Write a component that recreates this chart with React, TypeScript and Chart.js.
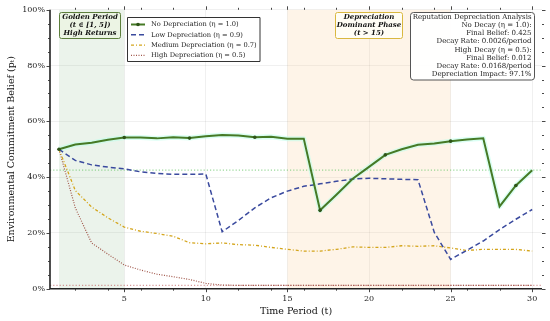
import React, { useEffect, useRef } from 'react';
import { Chart, registerables } from 'chart.js';
Chart.register(...registerables);

const periods = [1,2,3,4,5,6,7,8,9,10,11,12,13,14,15,16,17,18,19,20,21,22,23,24,25,26,27,28,29,30];
const noDepreciation = [0.500,0.517,0.523,0.534,0.542,0.542,0.539,0.543,0.540,0.547,0.551,0.549,0.543,0.545,0.538,0.538,0.281,0.337,0.394,0.437,0.480,0.500,0.516,0.521,0.529,0.535,0.539,0.295,0.370,0.425];
const lowDepreciation = [0.500,0.460,0.444,0.436,0.430,0.419,0.413,0.410,0.410,0.411,0.204,0.245,0.290,0.326,0.350,0.367,0.376,0.385,0.393,0.396,0.394,0.392,0.391,0.202,0.105,0.138,0.171,0.212,0.249,0.284];
const mediumDepreciation = [0.500,0.352,0.293,0.254,0.221,0.206,0.198,0.188,0.165,0.161,0.164,0.158,0.156,0.148,0.141,0.135,0.135,0.141,0.150,0.148,0.148,0.154,0.152,0.154,0.146,0.137,0.141,0.141,0.141,0.135];
const highDepreciation = [0.500,0.290,0.164,0.124,0.085,0.067,0.052,0.043,0.033,0.019,0.013,0.012,0.012,0.012,0.012,0.012,0.012,0.012,0.012,0.012,0.012,0.012,0.012,0.012,0.012,0.012,0.012,0.012,0.012,0.012];
const xTicks = [5, 10, 15, 20, 25, 30];
const yTicks = [0, 0.2, 0.4, 0.6, 0.8, 1.0];
const seriesLabels = ['No Depreciation (η = 1.0)', 'Low Depreciation (η = 0.9)', 'Medium Depreciation (η = 0.7)', 'High Depreciation (η = 0.5)'];
const finalNoDecay = 0.425;
const finalHighDecay = 0.012;
const goldenPeriod = [1, 5];
const depreciationPhase = [15, 25];
const statsLines = ['Reputation Depreciation Analysis', 'No Decay (η = 1.0):', 'Final Belief: 0.425', 'Decay Rate: 0.0026/period', 'High Decay (η = 0.5):', 'Final Belief: 0.012', 'Decay Rate: 0.0168/period', 'Depreciation Impact: 97.1%'];

const FONT = "'DejaVu Serif', serif";
const GREEN = '#467a26';
const BLUE = '#3a4a9e';
const GOLD = '#d4a51c';
const RED = '#a0564a';
const styles = [
  { color: GREEN, width: 2, dash: [] as number[] },
  { color: BLUE, width: 1.5, dash: [5, 3] },
  { color: GOLD, width: 1.3, dash: [3, 2, 1, 2] },
  { color: RED, width: 1.2, dash: [1, 1.5] },
];

const overlayPlugin = {
  id: 'overlay',
  beforeDatasetsDraw(chart: any) {
    const { ctx, chartArea: a, scales } = chart;
    const x = scales.x, y = scales.y;
    ctx.save();
    ctx.fillStyle = 'rgba(70,150,70,0.11)';
    const g0 = x.getPixelForValue(goldenPeriod[0]), g1 = x.getPixelForValue(goldenPeriod[1]);
    ctx.fillRect(g0, a.top, g1 - g0, a.bottom - a.top);
    ctx.fillStyle = 'rgba(245,175,95,0.14)';
    const d0 = x.getPixelForValue(depreciationPhase[0]), d1 = x.getPixelForValue(depreciationPhase[1]);
    ctx.fillRect(d0, a.top, d1 - d0, a.bottom - a.top);
    ctx.lineWidth = 1.1;
    ctx.setLineDash([1.2, 2]);
    ctx.strokeStyle = 'rgba(110,200,110,0.7)';
    let yy = y.getPixelForValue(finalNoDecay);
    ctx.beginPath(); ctx.moveTo(a.left, yy); ctx.lineTo(a.right, yy); ctx.stroke();
    ctx.strokeStyle = 'rgba(200,110,110,0.7)';
    yy = y.getPixelForValue(finalHighDecay);
    ctx.beginPath(); ctx.moveTo(a.left, yy); ctx.lineTo(a.right, yy); ctx.stroke();
    ctx.setLineDash([]);
    ctx.lineWidth = 5;
    ctx.lineJoin = 'round';
    ctx.strokeStyle = 'rgba(190,255,235,0.55)';
    ctx.beginPath();
    periods.forEach((t, i) => {
      const px = x.getPixelForValue(t), py = y.getPixelForValue(noDepreciation[i]);
      if (i === 0) ctx.moveTo(px, py); else ctx.lineTo(px, py);
    });
    ctx.stroke();
    ctx.restore();
  },
  afterDraw(chart: any) {
    const { ctx, chartArea: a, scales } = chart;
    const x = scales.x, y = scales.y;
    ctx.save();
    ctx.strokeStyle = '#222';
    ctx.lineWidth = 1.6;
    ctx.beginPath();
    ctx.moveTo(a.left, a.top); ctx.lineTo(a.left, a.bottom); ctx.lineTo(a.right, a.bottom);
    ctx.stroke();
    ctx.lineWidth = 0.9;
    ctx.strokeStyle = '#333';
    const tickX = (v: number, len: number) => {
      const px = Math.round(x.getPixelForValue(v)) + 0.5;
      ctx.beginPath();
      ctx.moveTo(px, a.bottom); ctx.lineTo(px, a.bottom + len);
      ctx.moveTo(px, a.top); ctx.lineTo(px, a.top - len);
      ctx.stroke();
    };
    const tickY = (v: number, len: number) => {
      const py = Math.round(y.getPixelForValue(v)) + 0.5;
      ctx.beginPath();
      ctx.moveTo(a.left, py); ctx.lineTo(a.left - len, py);
      ctx.moveTo(a.right, py); ctx.lineTo(a.right + len, py);
      ctx.stroke();
    };
    for (let t = 2; t <= 30; t += 2) if (t % 5 !== 0) tickX(t, 2);
    xTicks.forEach(t => tickX(t, 3.5));
    for (let k = 1; k < 20; k++) if (k % 4 !== 0) tickY(k * 0.05, 2);
    yTicks.forEach(v => tickY(v, 3.5));

    const box = (x0: number, y0: number, w: number, h: number, fill: string, stroke: string, r: number) => {
      ctx.beginPath();
      ctx.roundRect(x0, y0, w, h, r);
      ctx.fillStyle = fill; ctx.fill();
      ctx.lineWidth = 1; ctx.strokeStyle = stroke; ctx.stroke();
    };
    box(59.5, 12.5, 61, 26, 'rgba(236,244,228,0.95)', '#5d7f3c', 2);
    ctx.fillStyle = '#111';
    ctx.font = `italic bold 7px ${FONT}`;
    ctx.textAlign = 'center'; ctx.textBaseline = 'middle';
    ['Golden Period', '(t ∈ [1, 5])', 'High Returns'].forEach((s, i) => ctx.fillText(s, 90, 17.5 + i * 8));
    box(335.5, 12.5, 67, 26, 'rgba(255,253,245,0.95)', '#d9b840', 2);
    ctx.fillStyle = '#111';
    ['Depreciation', 'Dominant Phase', '(t > 15)'].forEach((s, i) => ctx.fillText(s, 369, 17.5 + i * 8));
    box(410.5, 12.5, 124, 67.5, 'rgba(255,255,255,0.95)', '#555', 3);
    ctx.fillStyle = '#222';
    ctx.font = `7px ${FONT}`;
    ctx.textAlign = 'right';
    statsLines.forEach((s, i) => ctx.fillText(s, 531.5, 17 + i * 8.2));
    ctx.beginPath();
    ctx.rect(127.5, 17.5, 132.5, 44);
    ctx.fillStyle = 'rgba(255,255,255,0.92)'; ctx.fill();
    ctx.lineWidth = 1; ctx.strokeStyle = '#333'; ctx.stroke();
    seriesLabels.forEach((lab, i) => {
      const ly = 24.5 + i * 10.3;
      const st = styles[i];
      ctx.beginPath();
      ctx.setLineDash(st.dash);
      ctx.lineWidth = st.width; ctx.strokeStyle = st.color;
      ctx.moveTo(131, ly); ctx.lineTo(145, ly); ctx.stroke();
      ctx.setLineDash([]);
      if (i === 0) {
        ctx.beginPath(); ctx.arc(138, ly, 1.8, 0, Math.PI * 2);
        ctx.fillStyle = '#2e5418'; ctx.fill();
      }
      ctx.fillStyle = '#222';
      ctx.font = `6.7px ${FONT}`;
      ctx.textAlign = 'left'; ctx.textBaseline = 'middle';
      ctx.fillText(lab, 151, ly);
    });
    ctx.restore();
  },
};

export default function App() {
  const ref = useRef<HTMLCanvasElement>(null);
  useEffect(() => {
    document.body.style.margin = '0';
    const mk = (arr: number[]) => periods.map((t, i) => ({ x: t, y: arr[i] }));
    const markerRadius = periods.map((_, i) => (i % 4 === 0 ? 1.8 : 0));
    const chart = new Chart(ref.current!, {
      type: 'line',
      data: {
        datasets: [
          { label: seriesLabels[0], data: mk(noDepreciation), borderColor: GREEN, borderWidth: 2, pointRadius: markerRadius, pointBackgroundColor: '#2e5418', pointBorderWidth: 0, tension: 0, order: 1 },
          { label: seriesLabels[1], data: mk(lowDepreciation), borderColor: BLUE, borderWidth: 1.5, borderDash: [5, 3], pointRadius: 0, tension: 0, order: 2 },
          { label: seriesLabels[2], data: mk(mediumDepreciation), borderColor: GOLD, borderWidth: 1.3, borderDash: [3, 2, 1, 2], pointRadius: 0, tension: 0, order: 3 },
          { label: seriesLabels[3], data: mk(highDepreciation), borderColor: RED, borderWidth: 1.2, borderDash: [1, 1.5], pointRadius: 0, tension: 0, order: 4 },
        ],
      },
      options: {
        animation: false,
        responsive: false,
        devicePixelRatio: 1,
        layout: { padding: { top: 8.7, right: 8, left: 0, bottom: 0 } },
        plugins: { legend: { display: false }, tooltip: { enabled: false } },
        scales: {
          x: {
            type: 'linear', min: 0.45, max: 30.6,
            afterBuildTicks: (s: any) => { s.ticks = xTicks.map(v => ({ value: v })); },
            afterFit: (s: any) => { s.height = 32.3; },
            grid: { color: 'rgba(0,0,0,0.08)', lineWidth: 0.8, drawTicks: false },
            border: { display: false },
            ticks: { padding: 5, color: '#222', font: { family: FONT, size: 8 } },
            title: { display: true, text: 'Time Period (t)', color: '#111', font: { family: FONT, size: 9.5 }, padding: { top: 0, bottom: 3.5 } },
          },
          y: {
            min: 0, max: 1,
            afterBuildTicks: (s: any) => { s.ticks = yTicks.map(v => ({ value: v })); },
            afterFit: (s: any) => { s.width = 50; },
            grid: { color: 'rgba(0,0,0,0.08)', lineWidth: 0.8, drawTicks: false },
            border: { display: false },
            ticks: { padding: 5, color: '#222', font: { family: FONT, size: 8 }, callback: (v: any) => Math.round(Number(v) * 100) + '%' },
            title: { display: true, text: 'Environmental Commitment Belief (pₜ)', color: '#111', font: { family: FONT, size: 9.5 }, padding: { top: 6, bottom: 0 } },
          },
        },
      },
      plugins: [overlayPlugin],
    });
    return () => chart.destroy();
  }, []);
  return (
    <div style={{ width: 550, height: 321 }}>
      <canvas ref={ref} width={550} height={321} style={{ display: 'block' }} />
    </div>
  );
}
